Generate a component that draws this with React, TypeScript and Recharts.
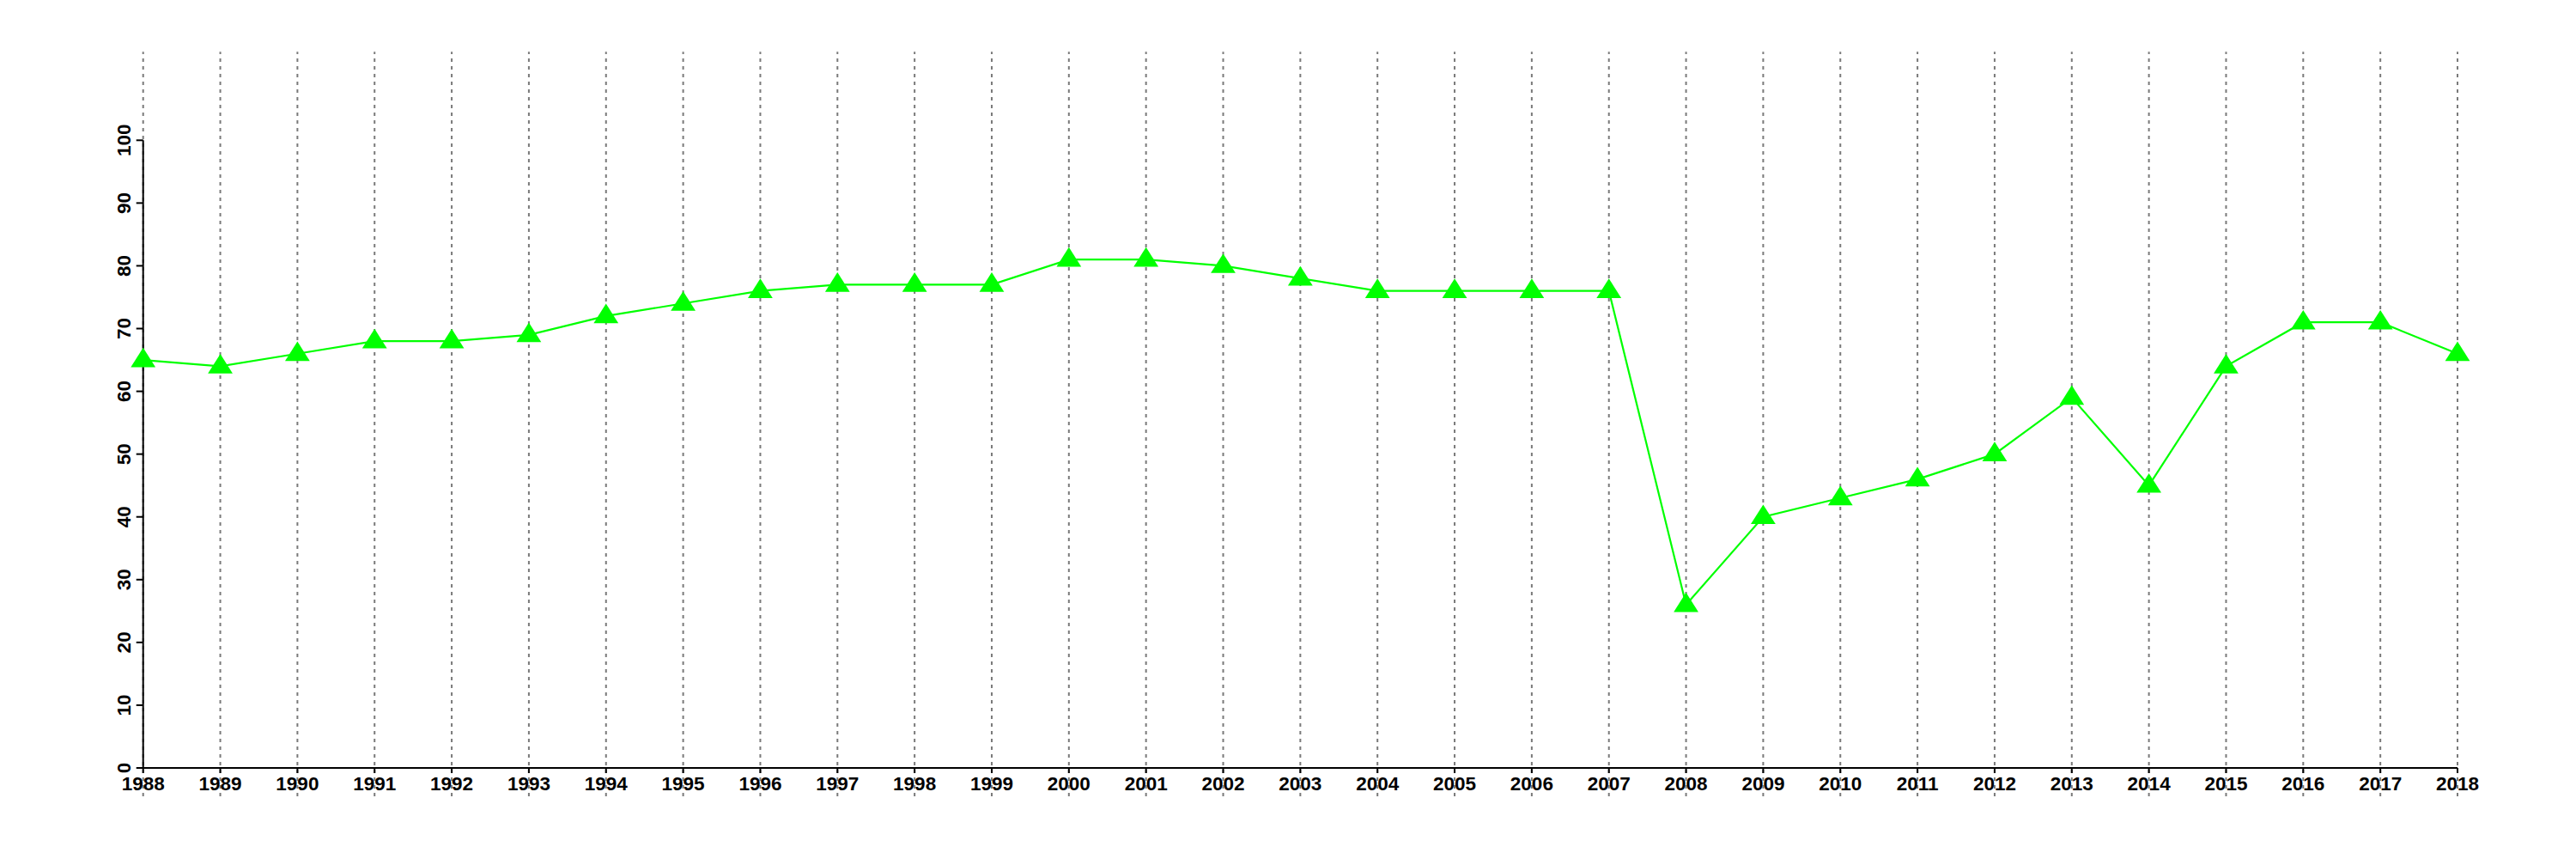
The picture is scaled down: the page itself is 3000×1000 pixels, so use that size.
import React from 'react';
import { LineChart, Line, XAxis, YAxis, ReferenceLine } from 'recharts';

const years = [
  1988, 1989, 1990, 1991, 1992, 1993, 1994, 1995, 1996, 1997, 1998,
  1999, 2000, 2001, 2002, 2003, 2004, 2005, 2006, 2007, 2008, 2009,
  2010, 2011, 2012, 2013, 2014, 2015, 2016, 2017, 2018,
];
const values = [
  65, 64, 66, 68, 68, 69, 72, 74, 76, 77, 77,
  77, 81, 81, 80, 78, 76, 76, 76, 76, 26, 40,
  43, 46, 50, 59, 45, 64, 71, 71, 66,
];
const yTicks = [0, 10, 20, 30, 40, 50, 60, 70, 80, 90, 100];
const GRID_LOW = -4.5;
const GRID_HIGH = 114.1;

const data = years.map((year, i) => ({ year, value: values[i] }));

const FONT = '"Liberation Sans", Arial, Helvetica, sans-serif';
const GREEN = '#00ff00';

const Triangle = (props: any) => {
  const { cx, cy, index } = props;
  if (cx == null || cy == null) return <g key={`t-${index}`} />;
  const pts = `${cx},${cy - 14.3} ${cx - 14.4},${cy + 8.4} ${cx + 14.4},${cy + 8.4}`;
  return <polygon key={`t-${index}`} points={pts} fill={GREEN} stroke="none" />;
};

const XTick = (props: any) => {
  const { x, y, payload } = props;
  return (
    <text x={x} y={y + 20} textAnchor="middle" fontFamily={FONT} fontWeight="bold" fontSize={22.5} fill="#000">
      {payload.value}
    </text>
  );
};

const YTick = (props: any) => {
  const { x, y, payload } = props;
  const bx = x - 7;
  return (
    <text
      x={bx}
      y={y}
      transform={`rotate(-90, ${bx}, ${y})`}
      textAnchor="middle"
      fontFamily={FONT}
      fontWeight="bold"
      fontSize={22.5}
      fill="#000"
    >
      {payload.value}
    </text>
  );
};

export default function App() {
  return (
    <div style={{ position: 'absolute', left: 0, top: 0, width: 3000, height: 1000, background: '#fff' }}>
      <LineChart
        width={3000}
        height={1000}
        data={data}
        margin={{ top: 163.3, right: 138, bottom: 76, left: 106.7 }}
      >
        <XAxis
          dataKey="year"
          type="number"
          domain={[1988, 2018]}
          ticks={years}
          interval={0}
          height={30}
          tickSize={6}
          tickMargin={0}
          axisLine={{ stroke: '#000', strokeWidth: 2 }}
          tickLine={{ stroke: '#000', strokeWidth: 2 }}
          tick={<XTick />}
        />
        <YAxis
          type="number"
          domain={[0, 100]}
          ticks={yTicks}
          interval={0}
          width={60}
          tickSize={8}
          tickMargin={0}
          axisLine={{ stroke: '#000', strokeWidth: 2 }}
          tickLine={{ stroke: '#000', strokeWidth: 2 }}
          tick={<YTick />}
        />
        <Line
          type="linear"
          dataKey="value"
          stroke={GREEN}
          strokeWidth={2.2}
          dot={Triangle}
          activeDot={false}
          isAnimationActive={false}
        />
        {years.map((yr) => (
          <ReferenceLine
            key={`g-${yr}`}
            segment={[{ x: yr, y: GRID_LOW }, { x: yr, y: GRID_HIGH }]}
            stroke="#7a7a7a"
            strokeWidth={2}
            strokeDasharray="4 5"
            ifOverflow="visible"
          />
        ))}
      </LineChart>
    </div>
  );
}
